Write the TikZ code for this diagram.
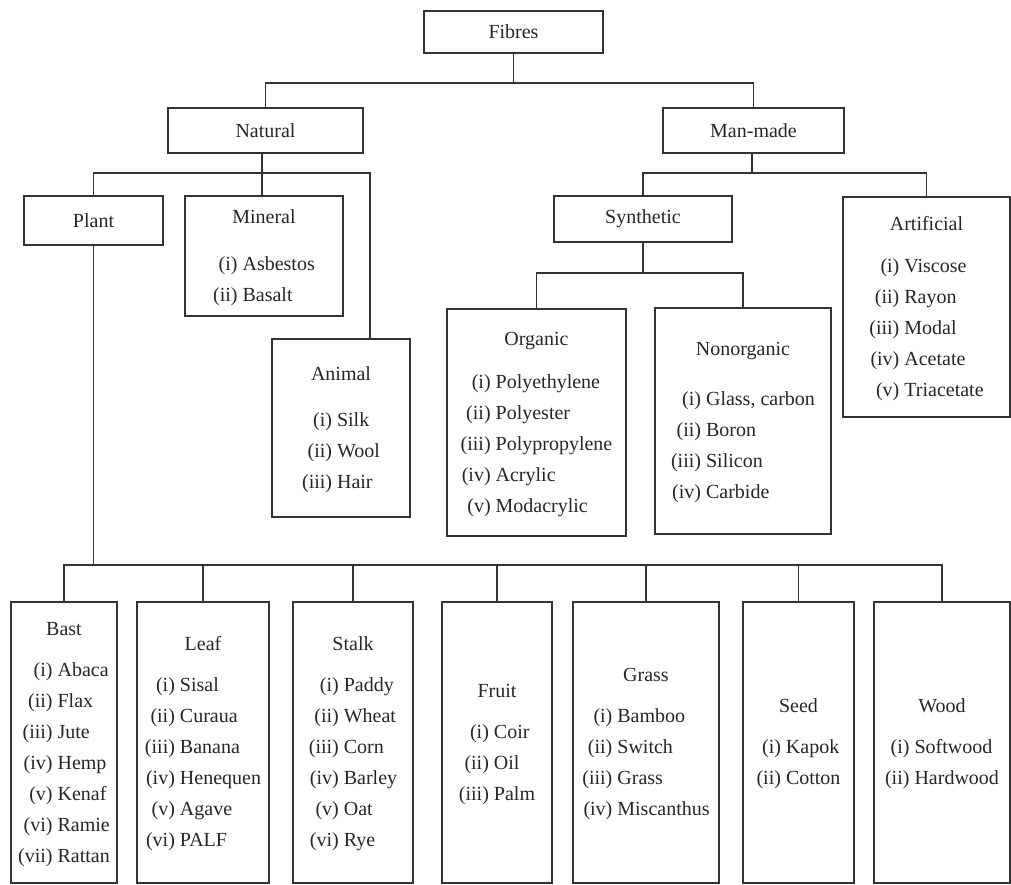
\documentclass[tikz,border=0pt]{standalone}
\usepackage{fontspec}
\setmainfont{Liberation Serif}
\newcommand{\fibrebox}[3][10pt]{\begin{tabular}{@{}r@{\ }l@{}}\multicolumn{2}{@{}c@{}}{#2}\\[#1]#3\end{tabular}}
\begin{document}
\begin{tikzpicture}[x=1pt,y=-1pt,
        box/.style={rectangle,draw=black!80,line width=1.3pt,inner sep=0pt,text=black!85,
          font=\fontsize{20}{31}\selectfont},
        plantbox/.style={box,minimum height=281pt},
        link/.style={draw=black!80,line width=1.3pt}]
  \useasboundingbox (0,0) rectangle (1011,884);
  \node[box,minimum width=179pt,minimum height=42pt] (fibres) at (513.5,32) {Fibres};
  \node[box,minimum width=195pt,minimum height=45pt] (natural) at (265.5,130.5) {Natural};
  \node[box,minimum width=181pt,minimum height=45pt] (manmade) at (753.5,130.5) {Man-made};
  \node[box,minimum width=139pt,minimum height=49pt] (plant) at (93.5,220.5) {Plant};
  \node[box,minimum width=158pt,minimum height=120pt] (mineral) at (264,256)
    {\fibrebox[16pt]{Mineral}{(i)&Asbestos\\(ii)&Basalt}};
  \node[box,minimum width=138pt,minimum height=178pt] (animal) at (341,428)
    {\fibrebox[15pt]{Animal}{(i)&Silk\\(ii)&Wool\\(iii)&Hair}};
  \node[box,minimum width=178pt,minimum height=46pt] (synthetic) at (643,219) {Synthetic};
  \node[box,minimum width=167pt,minimum height=220pt] (artificial) at (926.5,307)
    {\fibrebox[11pt]{Artificial}{(i)&Viscose\\(ii)&Rayon\\(iii)&Modal\\(iv)&Acetate\\(v)&Triacetate}};
  \node[box,minimum width=179pt,minimum height=227pt] (organic) at (536.5,422.5)
    {\fibrebox[12pt]{Organic}{(i)&Polyethylene\\(ii)&Polyester\\(iii)&Polypropylene\\(iv)&Acrylic\\(v)&Modacrylic}};
  \node[box,minimum width=176pt,minimum height=226pt] (nonorganic) at (743,421)
    {\fibrebox[19pt]{Nonorganic}{(i)&Glass, carbon\\(ii)&Boron\\(iii)&Silicon\\(iv)&Carbide}};
  \node[plantbox,minimum width=106pt] (bast) at (64,742.5)
    {\fibrebox{Bast}{(i)&Abaca\\(ii)&Flax\\(iii)&Jute\\(iv)&Hemp\\(v)&Kenaf\\(vi)&Ramie\\(vii)&Rattan}};
  \node[plantbox,minimum width=132pt] (leaf) at (203,742.5)
    {\fibrebox{Leaf}{(i)&Sisal\\(ii)&Curaua\\(iii)&Banana\\(iv)&Henequen\\(v)&Agave\\(vi)&PALF}};
  \node[plantbox,minimum width=120pt] (stalk) at (353,742.5)
    {\fibrebox{Stalk}{(i)&Paddy\\(ii)&Wheat\\(iii)&Corn\\(iv)&Barley\\(v)&Oat\\(vi)&Rye}};
  \node[plantbox,minimum width=110pt] (fruit) at (497,742.5)
    {\fibrebox{Fruit}{(i)&Coir\\(ii)&Oil\\(iii)&Palm}};
  \node[plantbox,minimum width=146pt] (grass) at (646,742.5)
    {\fibrebox{Grass}{(i)&Bamboo\\(ii)&Switch\\(iii)&Grass\\(iv)&Miscanthus}};
  \node[plantbox,minimum width=111pt] (seed) at (798.5,742.5)
    {\fibrebox{Seed}{(i)&Kapok\\(ii)&Cotton}};
  \node[plantbox,minimum width=136pt] (wood) at (942,742.5)
    {\fibrebox{Wood}{(i)&Softwood\\(ii)&Hardwood}};
  \coordinate (jtop) at (513.5,83);
  \coordinate (jnat) at (262,173);
  \coordinate (janimal) at (370,173);
  \coordinate (jman) at (752,173);
  \coordinate (jsyn) at (643,273);
  \coordinate (jplant) at (93.5,565);
  \draw[link] (fibres.south) -- (jtop);
  \draw[link] (natural.north) |- (jtop) -| (manmade.north);
  \draw[link] (natural.south -| jnat) -- (jnat);
  \draw[link] (plant.north) |- (janimal) -- (janimal |- animal.north);
  \draw[link] (mineral.north -| jnat) -- (jnat);
  \draw[link] (manmade.south -| jman) -- (jman);
  \draw[link] (synthetic.north) |- (jman) -| (artificial.north);
  \draw[link] (synthetic.south) -- (jsyn);
  \draw[link] (organic.north) |- (jsyn) -| (nonorganic.north);
  \draw[link] (plant.south) -- (jplant);
  \draw[link] (bast.north) |- (jplant) -| (wood.north);
  \foreach \n in {leaf,stalk,fruit,grass,seed}
    \draw[link] (\n.north) -- (\n.north |- jplant);
\end{tikzpicture}
\end{document}
